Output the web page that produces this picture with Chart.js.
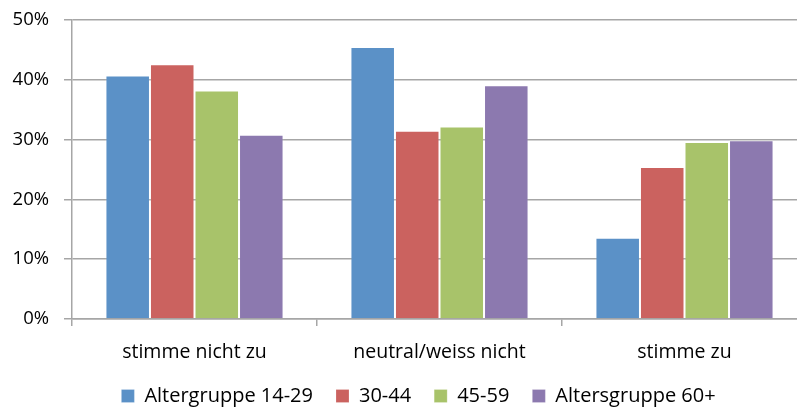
<!DOCTYPE html>
<html>
<head>
<meta charset="utf-8">
<script src="https://cdn.jsdelivr.net/npm/chart.js@4.4.1/dist/chart.umd.min.js"></script>
<style>
  html, body { margin: 0; padding: 0; background: #fff; overflow: hidden; }
  #wrap { width: 810px; height: 421px; }
</style>
</head>
<body>
<div id="wrap"><canvas id="chart" width="810" height="421"></canvas></div>
<script>
// Categories and series (percent values)
const categories = ['stimme nicht zu', 'neutral/weiss nicht', 'stimme zu'];
const seriesNames = ['Altergruppe 14-29', '30-44', '45-59', 'Altersgruppe 60+'];
const age1429 = [40.7, 45.5, 13.6];
const age3044 = [42.6, 31.5, 25.4];
const age4559 = [38.2, 32.2, 29.6];
const age60 = [30.8, 39.1, 29.9];
const yTicks = [0, 10, 20, 30, 40, 50];

const colors = ['#5b91c7', '#cb625f', '#a8c36a', '#8c79af'];
const allValues = [age1429, age3044, age4559, age60];

const fontFamily = '"Open Sans", "DejaVu Sans", sans-serif';
const gridGray = '#a6a6a6';

// move the legend a bit right and up like in the original
const legendShift = {
  id: 'legendShift',
  afterLayout(chart) {
    chart.legend.left += 15;
    chart.legend.right += 15;
    chart.legend.top -= 5;
    chart.legend.bottom -= 5;
  }
};

const ctx = document.getElementById('chart').getContext('2d');
const chart = new Chart(ctx, {
  type: 'bar',
  data: {
    labels: categories,
    datasets: seriesNames.map((name, i) => ({
      label: name,
      data: allValues[i],
      backgroundColor: colors[i],
      borderColor: 'rgba(255,255,255,0.2)',
      borderWidth: 1,
      categoryPercentage: 0.727,
      barPercentage: 1.0
    }))
  },
  options: {
    responsive: false,
    animation: false,
    layout: { padding: { top: 20, right: 3, left: 0, bottom: 0 } },
    plugins: {
      tooltip: { enabled: false },
      legend: {
        position: 'bottom',
        labels: {
          font: { family: fontFamily, size: 20 },
          color: '#000',
          boxWidth: 13,
          boxHeight: 13,
          padding: 23
        }
      }
    },
    scales: {
      x: {
        grid: {
          offset: true,
          drawOnChartArea: false,
          drawTicks: true,
          tickLength: 7,
          color: gridGray,
          lineWidth: 1.5
        },
        border: { color: gridGray, width: 1.5 },
        ticks: {
          font: { family: fontFamily, size: 19.5 },
          color: '#000',
          padding: 15
        },
        afterFit(scale) { scale.height = 49; }
      },
      y: {
        min: 0,
        max: 50,
        afterBuildTicks(scale) {
          scale.ticks = yTicks.map(v => ({ value: v }));
        },
        grid: {
          color: gridGray,
          lineWidth: 1.5,
          tickLength: 8
        },
        border: { color: gridGray, width: 1.5 },
        ticks: {
          font: { family: fontFamily, size: 18.5 },
          color: '#000',
          padding: 15,
          callback: v => v + '%'
        },
        afterFit(scale) {
          scale.width = 72;
          scale.paddingTop = 0;
          scale.paddingBottom = 0;
        }
      }
    }
  },
  plugins: [legendShift]
});
</script>
</body>
</html>
